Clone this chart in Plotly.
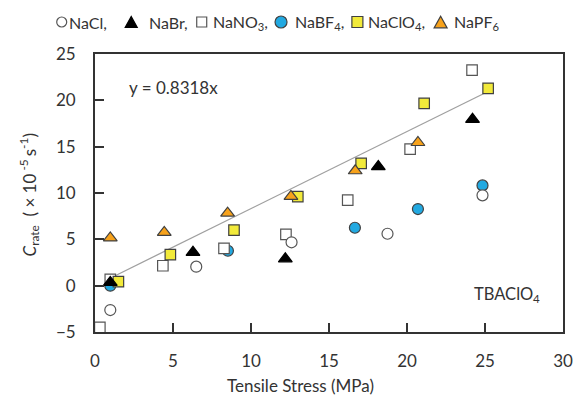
import plotly.graph_objects as go

# ---- data ----
nacl_x = [0.98, 6.49, 12.6, 18.75, 24.84]
nacl_y = [-2.63, 2.05, 4.68, 5.6, 9.75]

nabr_x = [0.98, 6.28, 12.2, 18.16, 24.2]
nabr_y = [0.35, 3.6, 2.9, 12.85, 17.95]

nano3_x = [0.31, 0.98, 4.35, 8.27, 12.24, 16.2, 20.2, 24.17]
nano3_y = [-4.5, 0.68, 2.15, 4.03, 5.54, 9.24, 14.74, 23.26]

nabf4_x = [0.98, 8.52, 16.66, 20.7, 24.84]
nabf4_y = [0.0, 3.77, 6.25, 8.27, 10.82]

naclo4_x = [1.5, 4.83, 8.91, 13.0, 17.06, 21.1, 25.2]
naclo4_y = [0.43, 3.35, 6.0, 9.6, 13.2, 19.67, 21.3]

napf6_x = [0.98, 4.44, 8.5, 12.56, 16.68, 20.7]
napf6_y = [5.15, 5.75, 7.83, 9.63, 12.4, 15.45]

slope = 0.8318
trend_x = [1.0, 24.9]

x_ticks = [0, 5, 10, 15, 20, 25, 30]
y_ticks = [-5, 0, 5, 10, 15, 20, 25]

FONT = "Lato"
TXT = "#333333"
EDGE = "#404040"

fig = go.Figure()

fig.add_trace(go.Scatter(
    x=trend_x, y=[slope * v for v in trend_x], mode="lines",
    line=dict(color="#a0a0a0", width=1.3), showlegend=False, hoverinfo="skip"))

def add(x, y, symbol, fill, size, edge=EDGE, w=1.2):
    fig.add_trace(go.Scatter(
        x=x, y=y, mode="markers", showlegend=False, cliponaxis=False,
        marker=dict(symbol=symbol, color=fill, size=size,
                    line=dict(color=edge, width=w))))

add(nabf4_x, nabf4_y, "circle", "#22a9e1", 11)
add(nano3_x, nano3_y, "square", "white", 10.5, "#555555")
add(naclo4_x, naclo4_y, "square", "#f2ea3a", 10.5)
add(nabr_x, nabr_y, "triangle-up", "black", 12, "black")
add(nacl_x, nacl_y, "circle", "white", 11, "#555555")
add(napf6_x, napf6_y, "triangle-up", "#f7a21b", 12)

# ---- manual legend (symbols as shapes, labels as text) ----
H = 278.0
Wd = 478.0
def px(xp):
    return (xp - 95) / Wd
ly = 1 + (54 - 22) / H

shapes = []
def circ(cx, d, fill, edge):
    shapes.append(dict(type="circle", xref="paper", yref="paper",
                       xsizemode="pixel", ysizemode="pixel",
                       xanchor=px(cx), yanchor=ly,
                       x0=-d / 2, x1=d / 2, y0=-d / 2, y1=d / 2,
                       fillcolor=fill, line=dict(color=edge, width=1.2)))
def sq(cx, d, fill, edge):
    shapes.append(dict(type="rect", xref="paper", yref="paper",
                       xsizemode="pixel", ysizemode="pixel",
                       xanchor=px(cx), yanchor=ly,
                       x0=-d / 2, x1=d / 2, y0=-d / 2, y1=d / 2,
                       fillcolor=fill, line=dict(color=edge, width=1.2)))
def tri(cx, d, fill, edge):
    h = d * 0.9
    shapes.append(dict(type="path", xref="paper", yref="paper",
                       xsizemode="pixel", ysizemode="pixel",
                       xanchor=px(cx), yanchor=ly,
                       path=f"M{-d/2},{-h/2} L{d/2},{-h/2} L0,{h/2} Z",
                       fillcolor=fill, line=dict(color=edge, width=1.2)))

circ(61, 10, "white", "#555555")
tri(132, 12, "black", "black")
sq(204, 10, "white", "#555555")
circ(285, 12, "#22a9e1", EDGE)
sq(363, 11, "#f2ea3a", EDGE)
tri(448, 13, "#f7a21b", EDGE)

legend_labels = ["NaCl,", "NaBr,", "NaNO<sub>3</sub>,", "NaBF<sub>4</sub>,",
                 "NaClO<sub>4</sub>,", "NaPF<sub>6</sub>"]
legend_text_x = [66, 148, 213, 297, 372, 460]

annotations = []
for t, xp in zip(legend_labels, legend_text_x):
    annotations.append(dict(text=t, x=px(xp), y=ly, xref="paper", yref="paper",
                            xanchor="left", yanchor="middle", showarrow=False,
                            font=dict(family=FONT, size=16, color=TXT)))

annotations += [
    dict(text="y = 0.8318x", x=5.02, y=21.4, xref="x", yref="y", showarrow=False,
         xanchor="center", yanchor="middle", font=dict(family=FONT, size=17, color=TXT)),
    dict(text="TBAClO<sub>4</sub>", x=26.4, y=-1.0, xref="x", yref="y", showarrow=False,
         xanchor="center", yanchor="middle", font=dict(family=FONT, size=16.5, color=TXT)),
    dict(text="Tensile Stress (MPa)", x=(305 - 95) / Wd, y=-(385 - 332) / H, xref="paper", yref="paper",
         showarrow=False, xanchor="center", yanchor="middle",
         font=dict(family=FONT, size=17, color=TXT)),
    dict(text="<i>C</i><sub>rate</sub>  ( \u00d7 10<sup> -5 </sup>s<sup>-1</sup>)",
         x=(28 - 95) / Wd, y=1 - (195 - 54) / H, xref="paper", yref="paper",
         textangle=-90, showarrow=False, xanchor="center", yanchor="middle",
         font=dict(family=FONT, size=17, color=TXT)),
]

axis_common = dict(showgrid=False, zeroline=False, showline=True, linecolor="#333333",
                   linewidth=1.8, mirror=True, ticks="inside", ticklen=9,
                   tickwidth=1.5, tickcolor="#333333",
                   tickfont=dict(family=FONT, size=17, color=TXT))

fig.update_layout(
    width=582, height=401,
    margin=dict(l=95, r=9, t=54, b=69),
    paper_bgcolor="white", plot_bgcolor="white",
    showlegend=False,
    xaxis=dict(range=[0, 30], tickvals=x_ticks, ticklabelstandoff=13, **axis_common),
    yaxis=dict(range=[-5, 25], tickvals=y_ticks, ticklabelstandoff=14, **axis_common),
    shapes=shapes,
    annotations=annotations,
)

fig.write_html("out.html", config={"displayModeBar": False},
               post_script="document.body.style.margin='0';")
